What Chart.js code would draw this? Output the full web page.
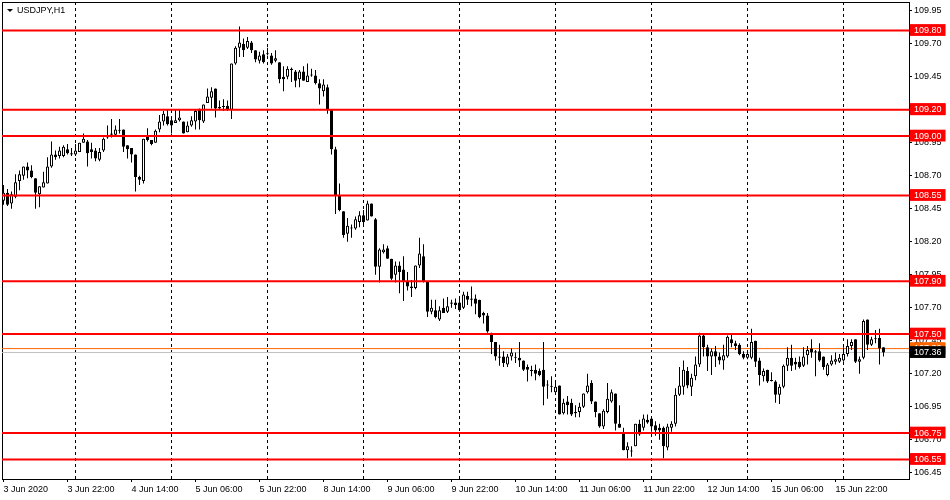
<!DOCTYPE html>
<html><head><meta charset="utf-8">
<script src="https://cdn.jsdelivr.net/npm/chart.js@4.4.1/dist/chart.umd.min.js"></script>
<style>html,body{margin:0;padding:0;background:#fff;}canvas{display:block;}</style>
</head><body>
<canvas id="c" width="950" height="500"></canvas>
<script>
// USDJPY H1, bars from 3 Jun 2020 06:00 (index 0) to 16 Jun 2020 10:00 (index 220)
const symbolTitle = 'USDJPY,H1';
const openP = [
108.51,108.57,108.49,108.54,108.66,108.70,108.77,108.74,108.68,108.56,
108.61,108.64,108.77,108.86,108.85,108.85,108.90,108.87,108.86,108.88,
108.95,108.96,108.90,108.89,108.82,108.89,108.99,109.01,109.01,109.04,
109.05,108.93,108.91,108.86,108.69,108.66,109.00,108.97,108.95,109.05,
109.11,109.15,109.12,109.10,109.12,109.11,109.03,109.08,109.11,109.20,
109.11,109.25,109.29,109.36,109.22,109.22,109.23,109.20,109.55,109.67,
109.70,109.67,109.71,109.65,109.57,109.62,109.62,109.61,109.57,109.56,
109.45,109.45,109.50,109.49,109.43,109.49,109.41,109.46,109.46,109.40,
109.34,109.37,109.20,108.90,108.55,108.43,108.26,108.30,108.30,108.35,
108.40,108.36,108.49,108.37,108.01,108.12,108.15,108.07,107.95,108.02,
107.99,107.90,107.86,107.85,108.02,108.09,107.90,107.67,107.68,107.61,
107.70,107.67,107.74,107.74,107.74,107.70,107.79,107.77,107.77,107.76,
107.66,107.64,107.51,107.44,107.33,107.33,107.27,107.33,107.32,107.32,
107.30,107.25,107.23,107.23,107.22,107.23,107.11,107.10,107.06,107.11,
106.90,106.99,106.98,106.90,106.91,106.95,107.06,107.13,106.99,106.90,
106.80,106.91,106.99,107.05,106.82,106.75,106.62,106.61,106.65,106.82,
106.79,106.85,106.86,106.81,106.79,106.79,106.64,106.79,106.82,107.04,
107.10,107.22,107.10,107.18,107.27,107.49,107.40,107.33,107.37,107.33,
107.30,107.33,107.46,107.43,107.42,107.35,107.32,107.32,107.45,107.30,
107.18,107.23,107.15,107.14,107.04,107.10,107.26,107.32,107.29,107.29,
107.26,107.34,107.39,107.36,107.37,107.33,107.19,107.27,107.29,107.29,
107.30,107.35,107.41,107.46,107.29,107.32,107.61,107.42,107.46,107.47,
107.40];
const highP = [
108.63,108.60,108.58,108.71,108.74,108.77,108.80,108.78,108.68,108.62,
108.73,108.84,108.96,108.89,108.92,108.93,108.94,108.91,108.94,108.95,
109.02,108.97,108.95,108.91,108.91,108.99,109.08,109.13,109.08,109.13,
109.05,108.93,108.91,108.86,108.70,108.98,109.06,108.97,109.05,109.16,
109.19,109.20,109.15,109.20,109.20,109.11,109.11,109.15,109.20,109.21,
109.24,109.36,109.37,109.36,109.27,109.28,109.27,109.55,109.68,109.83,
109.74,109.75,109.72,109.65,109.64,109.65,109.67,109.63,109.65,109.56,
109.53,109.53,109.52,109.50,109.50,109.53,109.55,109.51,109.50,109.43,
109.43,109.39,109.20,108.92,108.64,108.43,108.38,108.33,108.39,108.43,
108.44,108.51,108.49,108.38,108.15,108.18,108.17,108.07,108.05,108.05,
108.09,107.97,107.91,108.02,108.23,108.18,107.90,107.76,107.76,107.71,
107.77,107.78,107.76,107.77,107.77,107.82,107.82,107.86,107.80,107.76,
107.67,107.66,107.51,107.44,107.42,107.37,107.35,107.39,107.36,107.44,
107.30,107.27,107.26,107.27,107.24,107.44,107.15,107.18,107.13,107.11,
107.01,107.03,107.01,106.96,106.98,107.05,107.20,107.15,106.99,106.90,
106.93,107.13,107.08,107.05,106.96,106.79,106.68,106.65,106.82,106.85,
106.89,106.89,106.87,106.84,106.82,106.80,106.82,106.84,107.09,107.25,
107.30,107.25,107.20,107.33,107.51,107.50,107.42,107.39,107.41,107.36,
107.42,107.49,107.50,107.45,107.43,107.37,107.37,107.54,107.45,107.32,
107.24,107.23,107.21,107.15,107.12,107.27,107.40,107.42,107.32,107.33,
107.40,107.41,107.46,107.38,107.43,107.33,107.28,107.34,107.36,107.35,
107.40,107.46,107.46,107.46,107.33,107.61,107.61,107.48,107.53,107.54,
107.40];
const lowP = [
108.48,108.47,108.45,108.53,108.59,108.67,108.68,108.68,108.45,108.46,
108.61,108.64,108.76,108.82,108.83,108.84,108.86,108.85,108.85,108.88,
108.95,108.77,108.83,108.81,108.81,108.88,108.98,108.99,109.00,109.02,
108.88,108.83,108.80,108.58,108.63,108.64,108.96,108.93,108.95,109.03,
109.08,109.08,109.02,109.10,109.11,109.02,109.03,109.07,109.05,109.05,
109.10,109.25,109.21,109.14,109.20,109.19,109.19,109.13,109.54,109.60,
109.60,109.66,109.63,109.56,109.55,109.55,109.61,109.54,109.56,109.40,
109.34,109.43,109.41,109.37,109.37,109.42,109.41,109.45,109.39,109.24,
109.30,109.17,108.86,108.41,108.43,108.23,108.20,108.23,108.29,108.31,
108.33,108.36,108.39,107.95,107.89,108.11,108.07,107.91,107.89,107.81,
107.75,107.83,107.78,107.84,108.00,107.89,107.63,107.65,107.62,107.60,
107.66,107.66,107.70,107.69,107.67,107.69,107.72,107.71,107.65,107.62,
107.58,107.51,107.35,107.30,107.26,107.25,107.25,107.30,107.28,107.25,
107.22,107.14,107.18,107.15,107.18,106.96,107.01,107.06,107.05,106.89,
106.89,106.89,106.88,106.87,106.87,106.94,107.05,106.97,106.87,106.79,
106.78,106.90,106.98,106.77,106.79,106.62,106.56,106.57,106.65,106.73,
106.77,106.82,106.76,106.73,106.70,106.56,106.62,106.76,106.80,107.03,
107.04,107.09,107.03,107.15,107.25,107.33,107.22,107.19,107.25,107.27,
107.23,107.32,107.40,107.38,107.34,107.31,107.31,107.31,107.25,107.11,
107.14,107.13,107.14,106.98,106.97,107.09,107.22,107.22,107.23,107.24,
107.25,107.27,107.32,107.18,107.29,107.23,107.18,107.26,107.27,107.28,
107.29,107.33,107.38,107.28,107.20,107.31,107.38,107.41,107.43,107.27,
107.33];
const closeP = [
108.57,108.48,108.56,108.65,108.71,108.77,108.74,108.69,108.57,108.62,
108.65,108.77,108.86,108.84,108.89,108.92,108.87,108.86,108.89,108.95,
108.98,108.87,108.88,108.83,108.88,108.98,109.00,109.02,109.05,109.04,
108.92,108.90,108.86,108.69,108.67,108.98,108.97,108.94,109.04,109.11,
109.17,109.09,109.08,109.12,109.14,109.02,109.08,109.12,109.19,109.12,
109.24,109.30,109.34,109.21,109.21,109.22,109.20,109.55,109.67,109.71,
109.65,109.72,109.65,109.58,109.61,109.56,109.62,109.55,109.59,109.43,
109.43,109.51,109.51,109.42,109.49,109.42,109.46,109.46,109.40,109.36,
109.39,109.20,108.90,108.55,108.44,108.25,108.32,108.30,108.37,108.40,
108.35,108.49,108.39,108.01,108.14,108.14,108.07,107.92,108.02,107.97,
107.90,107.86,107.85,108.02,108.11,107.90,107.67,107.70,107.63,107.68,
107.66,107.71,107.73,107.72,107.68,107.80,107.76,107.76,107.73,107.63,
107.64,107.52,107.44,107.33,107.32,107.28,107.33,107.36,107.32,107.30,
107.23,107.23,107.22,107.20,107.19,107.10,107.11,107.10,107.10,106.89,
106.98,106.96,106.89,106.91,106.95,107.05,107.11,106.99,106.91,106.80,
106.92,107.01,107.06,106.82,106.79,106.62,106.65,106.61,106.82,106.74,
106.86,106.83,106.80,106.77,106.77,106.65,106.80,106.82,107.04,107.11,
107.23,107.11,107.17,107.27,107.49,107.40,107.33,107.37,107.33,107.30,
107.34,107.48,107.43,107.41,107.35,107.32,107.35,107.44,107.29,107.19,
107.22,107.14,107.145,107.04,107.10,107.26,107.32,107.26,107.27,107.25,
107.33,107.38,107.36,107.37,107.30,107.25,107.27,107.30,107.31,107.32,
107.35,107.41,107.44,107.29,107.31,107.60,107.42,107.46,107.46,107.39,
107.36];

// time axis labels (every 16 bars) and daily separators
const timeLabelIdx = [0,16,32,48,64,80,96,112,128,144,160,176,192,208];
const timeLabels = ['3 Jun 2020','3 Jun 22:00','4 Jun 14:00','5 Jun 06:00','5 Jun 22:00',
  '8 Jun 14:00','9 Jun 06:00','9 Jun 22:00','10 Jun 14:00','11 Jun 06:00',
  '11 Jun 22:00','12 Jun 14:00','15 Jun 06:00','15 Jun 22:00'];
const daySepIdx = [18,42,66,90,114,138,162,186,210];

// price axis
const yTickValues = [109.95,109.70,109.45,109.20,108.95,108.70,108.45,108.20,107.95,107.70,107.45,107.20,106.95,106.70,106.45];
const levels = [109.80,109.20,109.00,108.55,107.90,107.50,106.75,106.55];
const askPrice = 107.39;
const bidPrice = 107.36;

const FONT = '"Liberation Sans", Arial, sans-serif';
const XMIN = -0.375, XMAX = 226.375;
const YMIN = 106.402, YMAX = 110.016;

const bodyData = openP.map((o, i) => ({x: i, y: [o, closeP[i]]}));
const wickData = highP.map((h, i) => ({x: i, y: [lowP[i], h]}));
const sepData = [];
daySepIdx.forEach(d => { sepData.push({x: d, y: YMIN}, {x: d, y: YMAX}, {x: d, y: null}); });

const hLine = (v, color, w, order) => ({
  type: 'line', data: [{x: XMIN, y: v}, {x: XMAX, y: v}], borderColor: color, borderWidth: w,
  pointRadius: 0, order: order, xAxisID: 'x', yAxisID: 'y'
});

const levelSets = levels.map(l => hLine(l, '#ff0000', 2, 0));

const allYTicks = yTickValues.concat(levels, [askPrice, bidPrice]);
const labelStyle = v => {
  if (levels.includes(v)) return {bg: '#ff0000', fg: '#ffffff', box: true};
  if (v === askPrice) return {bg: 'rgb(255,102,0)', fg: '#ffffff', box: true};
  if (v === bidPrice) return {bg: '#000000', fg: '#ffffff', box: true};
  return {bg: 'rgba(0,0,0,0)', fg: '#000000', box: false};
};

const titlePlugin = {
  id: 'symTitle',
  afterDraw(chart) {
    const ctx = chart.ctx;
    ctx.save();
    ctx.fillStyle = '#000';
    ctx.beginPath();
    ctx.moveTo(7, 9); ctx.lineTo(13, 9); ctx.lineTo(10, 12); ctx.closePath(); ctx.fill();
    ctx.font = '9px ' + FONT;
    ctx.textBaseline = 'middle';
    ctx.fillText(symbolTitle, 17, 11);
    ctx.restore();
  }
};

new Chart(document.getElementById('c'), {
  type: 'bar',
  data: {
    datasets: [
      ...levelSets,
      {type: 'bar', data: bodyData, order: 1, grouped: false, barThickness: 3, minBarLength: 1,
       borderSkipped: false, inflateAmount: 0, borderWidth: 1, borderColor: '#000',
       backgroundColor: c => { const r = c.raw; return (r && r.y && r.y[1] >= r.y[0]) ? '#ffffff' : '#000000'; },
       xAxisID: 'x', yAxisID: 'y'},
      {type: 'bar', data: wickData, order: 2, grouped: false, barThickness: 1, minBarLength: 1,
       borderSkipped: false, inflateAmount: 0, borderWidth: 0, backgroundColor: '#000',
       xAxisID: 'x', yAxisID: 'y'},
      hLine(askPrice, 'rgb(255,102,0)', 1, 3),
      hLine(bidPrice, '#c0c0c0', 1, 3),
      {type: 'line', data: sepData, borderColor: '#000', borderWidth: 1, borderDash: [3, 3],
       pointRadius: 0, spanGaps: false, order: 4, xAxisID: 'x', yAxisID: 'y'}
    ]
  },
  options: {
    responsive: false,
    animation: false,
    events: [],
    layout: {padding: {left: 2, top: 2, right: 0, bottom: 0}},
    plugins: {legend: {display: false}, tooltip: {enabled: false}, title: {display: false}},
    scales: {
      x: {
        type: 'linear', position: 'bottom', min: XMIN, max: XMAX, offset: false, bounds: 'data',
        grid: {display: true, drawOnChartArea: false, drawTicks: true, tickLength: 3, color: '#000', offset: false},
        border: {display: true, color: '#000', width: 1},
        ticks: {autoSkip: false, maxRotation: 0, minRotation: 0, align: 'start', padding: 2, color: '#000',
                font: {family: FONT, size: 9},
                callback: (v, i) => timeLabels[i]},
        afterBuildTicks: s => { s.ticks = timeLabelIdx.map(v => ({value: v})); },
        afterFit: s => { s.height = 21; s.paddingLeft = 0; s.paddingRight = 0; s.paddingTop = 0; s.paddingBottom = 0; }
      },
      xt: {
        type: 'linear', position: 'top', display: true, min: 0, max: 1,
        grid: {display: false, drawTicks: false}, ticks: {display: false},
        border: {display: true, color: '#000', width: 1},
        afterFit: s => { s.height = 0; s.paddingLeft = 0; s.paddingRight = 0; s.paddingTop = 0; s.paddingBottom = 0; }
      },
      y: {
        type: 'linear', position: 'right', min: YMIN, max: YMAX, bounds: 'data',
        grid: {display: true, drawOnChartArea: false, drawTicks: true, tickLength: 3,
               color: c => (c.tick && yTickValues.includes(c.tick.value)) ? '#000' : 'rgba(0,0,0,0)'},
        border: {display: true, color: '#000', width: 1},
        ticks: {
          autoSkip: false, padding: 2, font: {family: FONT, size: 9},
          color: c => c.tick ? labelStyle(c.tick.value).fg : '#000',
          showLabelBackdrop: c => c.tick ? labelStyle(c.tick.value).box : false,
          backdropColor: c => c.tick ? labelStyle(c.tick.value).bg : 'rgba(0,0,0,0)',
          backdropPadding: {left: 4, right: 4, top: 1, bottom: 0},
          callback: v => Number(v).toFixed(2)
        },
        afterBuildTicks: s => { s.ticks = allYTicks.map(v => ({value: v})); },
        afterFit: s => { s.width = 41; s.paddingTop = 0; s.paddingBottom = 0; s.paddingLeft = 0; s.paddingRight = 0; }
      },
      yl: {
        type: 'linear', position: 'left', display: true, min: 0, max: 1,
        grid: {display: false, drawTicks: false}, ticks: {display: false},
        border: {display: true, color: '#000', width: 1},
        afterFit: s => { s.width = 0; s.paddingTop = 0; s.paddingBottom = 0; s.paddingLeft = 0; s.paddingRight = 0; }
      }
    }
  },
  plugins: [titlePlugin]
});
</script>
</body></html>
